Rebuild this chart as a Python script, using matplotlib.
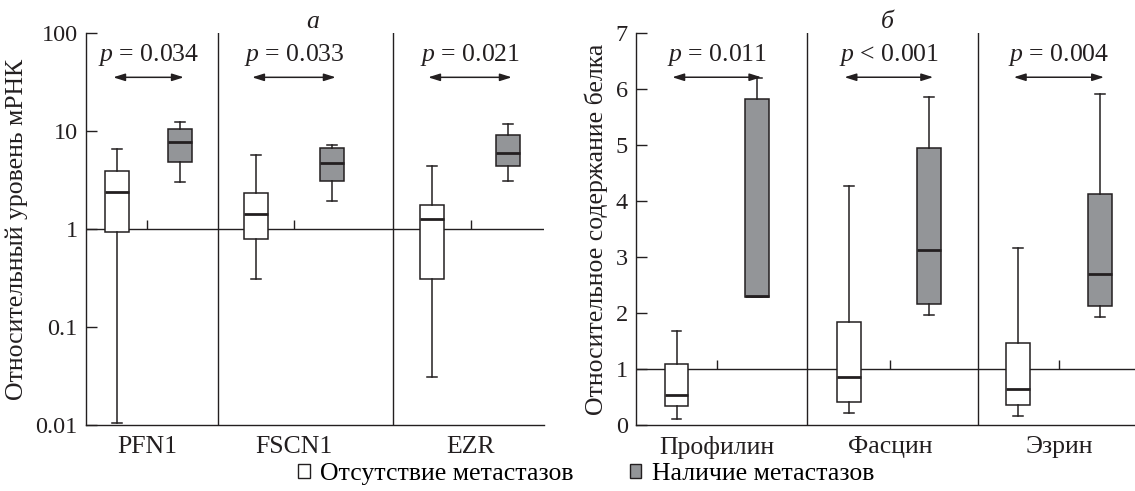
import matplotlib

matplotlib.use("Agg")
import matplotlib.pyplot as plt
from matplotlib.patches import Patch

plt.rcParams["font.family"] = ["Liberation Serif", "DejaVu Serif"]
plt.rcParams["mathtext.fontset"] = "custom"
plt.rcParams["mathtext.rm"] = "Liberation Serif"
plt.rcParams["mathtext.it"] = "Liberation Serif:italic"

INK, GREY = "#231f20", "#939598"
FS = 18.5      # words
FS_NUM = 17.5  # tick numbers
FS_P = 18.5

# data: each box = [whisker low, q1, median, q3, whisker high]
mrna_genes = ["PFN1", "FSCN1", "EZR"]
mrna_no_mets = [[0.0105, 0.94, 2.37, 3.9, 6.6],
                [0.307, 0.785, 1.41, 2.31, 5.73],
                [0.031, 0.31, 1.27, 1.75, 4.4]]
mrna_mets = [[3.0, 4.83, 7.67, 10.6, 12.4],
             [1.93, 3.07, 4.75, 6.76, 7.2],
             [3.09, 4.36, 5.97, 9.04, 11.8]]
mrna_p = ["= 0.034", "= 0.033", "= 0.021"]

protein_names = ["Профилин", "Фасцин", "Эзрин"]
protein_no_mets = [[0.10, 0.345, 0.53, 1.09, 1.67],
                   [0.21, 0.405, 0.85, 1.845, 4.27],
                   [0.16, 0.35, 0.64, 1.47, 3.16]]
protein_mets = [[2.29, 2.29, 2.31, 5.82, 6.19],
                [1.96, 2.155, 3.125, 4.95, 5.85],
                [1.92, 2.13, 2.70, 4.12, 5.91]]
protein_p = ["= 0.011", "< 0.001", "= 0.004"]

# layout (x positions in axis units)
LEFT = dict(white=[0.203, 1.113, 2.266], grey=[0.616, 1.611, 2.764], ticks=[0.40, 1.362, 2.522],
            seps=[0.865, 2.011], width=0.157, xmax=3.0)
RIGHT = dict(white=[0.237, 1.244, 2.234], grey=[0.708, 1.713, 2.712], ticks=[0.475, 1.485, 2.475],
             seps=[0.998, 1.998], width=0.14, xmax=2.918)


def stats(rows):
    return [dict(whislo=r[0], q1=r[1], med=r[2], q3=r[3], whishi=r[4], fliers=[]) for r in rows]


def panel(ax, lay, neg, pos, labels, pvals, arrow_y, text_y, tick_top):
    for rows, xs, fc in ((neg, lay["white"], "white"), (pos, lay["grey"], GREY)):
        w = lay["width"]
        ax.bxp(stats(rows), positions=xs, widths=w, capwidths=w * 0.4, patch_artist=True,
               showfliers=False, manage_ticks=False,
               boxprops=dict(facecolor=fc, edgecolor=INK, linewidth=1.1),
               medianprops=dict(color=INK, linewidth=2.0),
               whiskerprops=dict(color=INK, linewidth=1.1),
               capprops=dict(color=INK, linewidth=1.1))
    ax.axhline(1, color=INK, lw=1.0, zorder=0)
    for s in lay["seps"]:
        ax.axvline(s, color=INK, lw=1.0, zorder=0)
    ax.vlines(lay["ticks"], 1, tick_top, color=INK, lw=1.0)
    for x0, x1, pv in zip(lay["white"], lay["grey"], pvals):
        a, b = x0 - 0.025, x1 + 0.025
        ax.annotate("", xy=(a, arrow_y), xytext=(b, arrow_y),
                    arrowprops=dict(arrowstyle="<|-|>,head_length=0.7,head_width=0.22",
                                    color=INK, lw=1.1, shrinkA=0, shrinkB=0))
        ax.text((a + b) / 2, text_y, f"$p$ {pv}", ha="center", va="center", fontsize=FS_P, color=INK)
    ax.set_xlim(0, lay["xmax"])
    ax.set_xticks(lay["ticks"])
    ax.set_xticklabels(labels, fontsize=FS, color=INK)
    ax.tick_params(axis="x", length=0, pad=8)
    ax.tick_params(axis="y", direction="in", length=8, width=1.0, labelsize=FS_NUM, colors=INK, pad=6)
    ax.tick_params(axis="y", which="minor", length=0)
    for s in ("top", "right"):
        ax.spines[s].set_visible(False)
    for s in ("left", "bottom"):
        ax.spines[s].set_color(INK)
        ax.spines[s].set_linewidth(1.0)


fig = plt.figure(figsize=(11.35, 4.91), dpi=100)
ax1 = fig.add_axes([86 / 1135, 66 / 491, 458 / 1135, 392 / 491])
ax2 = fig.add_axes([636 / 1135, 66 / 491, 499 / 1135, 392 / 491])

ax1.set_yscale("log")
ax1.set_ylim(0.01, 100)
ax1.set_yticks([0.01, 0.1, 1, 10, 100])
ax1.set_yticklabels(["0.01", "0.1", "1", "10", "100"])
panel(ax1, LEFT, mrna_no_mets, mrna_mets, mrna_genes, mrna_p, 35.3, 59.7, 1.23)
ax1.set_ylabel("Относительный уровень мРНК", fontsize=FS, color=INK, labelpad=5)

ax2.set_ylim(0, 7)
ax2.set_yticks(range(8))
panel(ax2, RIGHT, protein_no_mets, protein_mets, protein_names, protein_p, 6.21, 6.61, 1.16)
ax2.set_ylabel("Относительное содержание белка", fontsize=FS, color=INK, labelpad=5)

fig.text(313 / 1135, 1 - 22 / 491, "а", style="italic", fontsize=FS, ha="center", va="center", color=INK)
fig.text(887 / 1135, 1 - 22 / 491, "б", style="italic", fontsize=FS, ha="center", va="center", color=INK)

handles = [Patch(facecolor="white", edgecolor=INK, linewidth=1.0),
           Patch(facecolor=GREY, edgecolor=INK, linewidth=1.0)]
fig.legend(handles, ["Отсутствие метастазов", "Наличие метастазов"], loc="center",
           bbox_to_anchor=(586 / 1135, 1 - 474 / 491), ncol=2, frameon=False, fontsize=FS,
           handlelength=0.45, handleheight=0.45, handletextpad=0.4, columnspacing=2.2,
           borderpad=0.1)

fig.savefig("out.png", dpi=100)
